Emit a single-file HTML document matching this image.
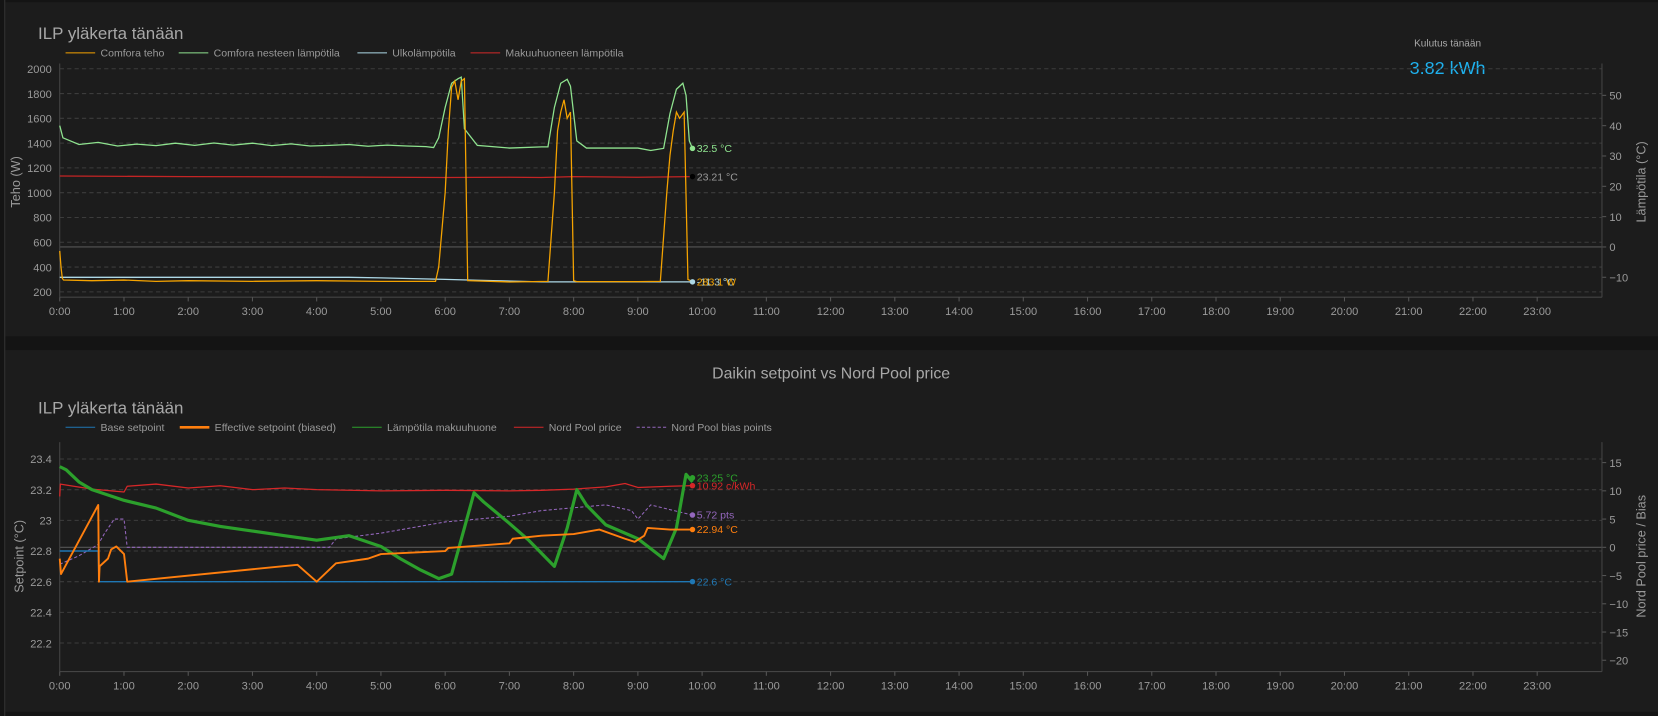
<!DOCTYPE html>
<html><head><meta charset="utf-8">
<style>
html,body{margin:0;padding:0;background:#161616;width:1658px;height:716px;overflow:hidden;}
svg{display:block;font-family:"Liberation Sans",sans-serif;}
</style></head>
<body>
<svg id="root" width="1658" height="716" viewBox="0 0 1568 677" preserveAspectRatio="none" xmlns="http://www.w3.org/2000/svg">
<rect x="0" y="0" width="1568" height="677" fill="#141414"/>
<rect x="5" y="2" width="1563" height="316" fill="#1c1c1c"/>
<rect x="5" y="331" width="1563" height="342" fill="#1c1c1c"/>
<line x1="4.5" y1="0" x2="4.5" y2="677" stroke="#333"/>
<g id="c1"></g>
<g id="c2"></g>
</svg>
<script>
// ---------- Chart 1 data ----------
const hourTicks = ["0:00","1:00","2:00","3:00","4:00","5:00","6:00","7:00","8:00","9:00","10:00","11:00","12:00","13:00","14:00","15:00","16:00","17:00","18:00","19:00","20:00","21:00","22:00","23:00"];
const powerTicks = [200,400,600,800,1000,1200,1400,1600,1800,2000];
const tempTicks = [-10,0,10,20,30,40,50];
const powerT = [0,0.02,0.04,0.06,0.5,1,1.5,2,3,4,5,5.85,5.9,6.0,6.05,6.1,6.15,6.2,6.25,6.3,6.35,7,7.6,7.7,7.75,7.8,7.85,7.9,7.95,8.0,8.05,9,9.35,9.45,9.5,9.55,9.6,9.65,9.72,9.78,9.85];
const powerV = [530,400,310,295,290,295,285,290,285,290,285,285,400,1000,1500,1850,1900,1750,1900,1920,290,280,285,1000,1500,1650,1750,1600,1650,290,282,282,285,1000,1300,1500,1650,1600,1650,300,283];
const fluidT = [0,0.05,0.3,0.6,0.9,1.2,1.5,1.8,2.1,2.4,2.7,3.0,3.3,3.6,3.9,4.2,4.5,4.8,5.1,5.4,5.7,5.82,5.9,6.0,6.1,6.2,6.25,6.3,6.5,7.0,7.5,7.6,7.7,7.8,7.9,7.95,8.05,8.2,9.0,9.2,9.4,9.5,9.6,9.7,9.75,9.8,9.85];
const fluidV = [40,36,33.8,34.5,33.3,33.9,33.4,34.2,33.5,34.3,33.6,34.2,33.4,34.0,33.3,33.5,33.8,33.2,33.6,33.3,33.1,32.8,36,46,54,55.5,56,39,33.5,32.6,33,33,46,54,55.3,53,35,32.6,32.6,31.8,32.5,44,52,54,50,35,32.5];
const outT = [0,4.5,5,6,6.5,7.5,9.85];
const outV = [-10,-10,-10.2,-10.7,-11,-11.5,-11.5];
const roomT = [0,2,4,6,7,7.5,8,9,9.85];
const roomV = [23.4,23.2,23.1,22.9,23.0,22.9,23.2,23.0,23.21];

// ---------- Chart 2 data ----------
const spTicks = [22.2,22.4,22.6,22.8,23,23.2,23.4];
const spTickLabels = ["22.2","22.4","22.6","22.8","23","23.2","23.4"];
const biasTicks = [-20,-15,-10,-5,0,5,10,15];
const baseT = [0,0.6,0.61,9.85];
const baseV = [22.8,22.8,22.6,22.6];
const effT = [0,0.02,0.6,0.61,0.62,0.75,0.8,0.88,1.0,1.05,3.7,4.0,4.3,4.8,5.0,6.0,6.05,7.0,7.05,7.5,8.0,8.4,8.8,8.95,9.1,9.15,9.5,9.85];
const effV = [22.75,22.65,23.1,22.6,22.7,22.75,22.81,22.83,22.78,22.6,22.71,22.6,22.72,22.75,22.78,22.8,22.82,22.85,22.88,22.9,22.91,22.94,22.88,22.86,22.9,22.95,22.94,22.94];
const roomBT = [0,0.1,0.3,0.5,1.0,1.5,2.0,2.5,3.0,3.5,4.0,4.5,5.0,5.3,5.6,5.9,6.1,6.3,6.45,6.6,7.0,7.3,7.7,7.9,8.05,8.2,8.5,9.0,9.4,9.6,9.75,9.85];
const roomBV = [23.35,23.33,23.25,23.2,23.13,23.08,23.0,22.96,22.93,22.9,22.87,22.9,22.83,22.75,22.68,22.62,22.65,22.95,23.18,23.12,22.98,22.87,22.7,22.95,23.2,23.1,22.97,22.88,22.75,22.95,23.3,23.25];
const priceT = [0,0.01,0.5,1.0,1.05,1.5,2.0,2.5,3.0,3.5,4.0,5.0,6.0,7.0,7.5,8.0,8.5,8.8,9.0,9.5,9.85];
const priceV = [9,11.2,10.3,9.8,10.8,11.2,10.5,10.9,10.2,10.5,10.2,10.0,10.1,10.0,10.1,10.3,10.7,11.3,10.6,10.8,10.92];
const biasT = [0,0.3,0.6,0.7,0.85,1.0,1.05,4.2,4.3,5.0,6.0,7.0,7.5,8.0,8.5,8.9,9.0,9.2,9.85];
const biasV = [-3,-1.5,0.5,2.5,5,5,0,0,1.5,2.5,4.5,5.5,6.5,7,7.5,6.5,5,7.5,5.72];

const NS="http://www.w3.org/2000/svg";
function mk(parent,tag,attrs,text){const e=document.createElementNS(NS,tag);for(const k in attrs)e.setAttribute(k,attrs[k]);if(text!==undefined)e.textContent=text;parent.appendChild(e);return e;}
const X0=56.5, HR=60.75, XR=1515;
const xs=h=>X0+h*HR;
function pathD(T,V,f){return T.map((t,i)=>(i?"L":"M")+xs(t).toFixed(1)+" "+f(V[i]).toFixed(1)).join("");}

function axesX(g,yb){
  hourTicks.forEach((lab,i)=>{const x=xs(i);
    mk(g,"line",{x1:x,y1:yb,x2:x,y2:yb+4,stroke:"#555"});
    const t=mk(g,"text",{x:x,y:yb+17,fill:"#9a9a9a","font-size":10.5,"text-anchor":"middle"},lab);
    
    
  });
}
function legend(g,y,items,pos){
  items.forEach((it,i)=>{const x=pos[i];
    mk(g,"line",{x1:x,y1:y,x2:x+28,y2:y,stroke:it.c,"stroke-width":it.w||1,"stroke-dasharray":it.d||"none"});
    const t=mk(g,"text",{x:x+33,y:y+3.5,fill:"#9a9a9a","font-size":10},it.n);
    
    
  });
}

// ---------- Chart 1 ----------
(function(){
  const g=document.getElementById("c1");
  const yP=v=>65+(2000-v)/200*23.44;
  const yT=v=>233.5-v*2.867;
  const yTop=60, yBot=281;
  mk(g,"text",{x:36,y:37,fill:"#a8a8a8","font-size":16},"ILP yläkerta tänään");
  legend(g,50,[{n:"Comfora teho",c:"#f5a300"},{n:"Comfora nesteen lämpötila",c:"#8fe38f"},{n:"Ulkolämpötila",c:"#add8e6"},{n:"Makuuhuoneen lämpötila",c:"#d42a2a"}],[62,169,338,445]);
  mk(g,"text",{x:1369,y:44,fill:"#a8a8a8","font-size":9.5,"text-anchor":"middle"},"Kulutus tänään");
  mk(g,"text",{x:1369,y:70,fill:"#1fb1ee","font-size":17,"text-anchor":"middle"},"3.82 kWh");
  powerTicks.forEach(v=>{const y=yP(v);
    mk(g,"line",{x1:X0,y1:y,x2:XR,y2:y,stroke:"#3c3c3c","stroke-dasharray":"4 3"});
    mk(g,"text",{x:49,y:y+4,fill:"#9a9a9a","font-size":10.5,"text-anchor":"end"},v);});
  tempTicks.forEach(v=>{const y=yT(v);
    mk(g,"line",{x1:XR,y1:y,x2:XR+4,y2:y,stroke:"#555"});
    mk(g,"text",{x:1522,y:y+4,fill:"#9a9a9a","font-size":10.5},v<0?"−"+(-v):v);});
  mk(g,"line",{x1:X0,y1:yT(0),x2:XR,y2:yT(0),stroke:"#555"});
  mk(g,"line",{x1:X0,y1:yTop,x2:X0,y2:yBot,stroke:"#444"});
  mk(g,"line",{x1:XR,y1:yTop,x2:XR,y2:yBot,stroke:"#444"});
  mk(g,"line",{x1:X0,y1:yBot,x2:XR,y2:yBot,stroke:"#444"});
  axesX(g,yBot);
  mk(g,"text",{x:0,y:0,fill:"#9a9a9a","font-size":12,"text-anchor":"middle",transform:"translate(19,172) rotate(-90)"},"Teho (W)");
  mk(g,"text",{x:0,y:0,fill:"#9a9a9a","font-size":12,"text-anchor":"middle",transform:"translate(1556,172) rotate(-90)"},"Lämpötila (°C)");
  const s=[[roomT,roomV,yT,"#c42424",1.2,"room-temp-line"],[outT,outV,yT,"#add8e6",1.2,"outdoor-temp-line"],[fluidT,fluidV,yT,"#8fe38f",1.2,"fluid-temp-line"],[powerT,powerV,yP,"#f5a300",1.2,"power-line"]];
  s.forEach(a=>{const p=mk(g,"path",{d:pathD(a[0],a[1],a[2]),fill:"none",stroke:a[3],"stroke-width":a[4]});
    
    });
  const ex=xs(9.85);
  mk(g,"circle",{cx:ex,cy:yT(fluidV[fluidV.length-1]),r:2.6,fill:"#8fe38f"});
  mk(g,"text",{x:ex+4,y:yT(32.5)+3.5,fill:"#8fe38f","font-size":10},"32.5 °C");
  mk(g,"circle",{cx:ex,cy:yT(roomV[roomV.length-1]),r:2.6,fill:"#000"});
  mk(g,"text",{x:ex+4,y:yT(23.21)+3.5,fill:"#9a9a9a","font-size":10},"23.21 °C");
  mk(g,"circle",{cx:ex,cy:yT(-11.5),r:2.6,fill:"#add8e6"});
  mk(g,"text",{x:ex+4,y:yT(-11.5)+3.5,fill:"#add8e6","font-size":10},"-11.3 °C");
  mk(g,"text",{x:ex+4,y:yT(-11.5)+3.5,fill:"#f5a300","font-size":10},"283.1 W");
})();

// ---------- Chart 2 ----------
(function(){
  const g=document.getElementById("c2");
  const yS=v=>434+(23.4-v)/0.2*29;
  const yB=v=>517.5-v*5.34;
  const yTop=418, yBot=635;
  mk(g,"text",{x:786,y:358,fill:"#a8a8a8","font-size":15,"text-anchor":"middle"},"Daikin setpoint vs Nord Pool price");
  mk(g,"text",{x:36,y:391,fill:"#a8a8a8","font-size":16},"ILP yläkerta tänään");
  legend(g,404,[{n:"Base setpoint",c:"#1f77b4"},{n:"Effective setpoint (biased)",c:"#ff7f0e",w:2.5},{n:"Lämpötila makuuhuone",c:"#2ca02c"},{n:"Nord Pool price",c:"#d62728"},{n:"Nord Pool bias points",c:"#9467bd",d:"3 2"}],[62,170,333,486,602]);
  spTicks.forEach((v,i)=>{const y=yS(v);
    mk(g,"line",{x1:X0,y1:y,x2:XR,y2:y,stroke:"#3c3c3c","stroke-dasharray":"4 3"});
    mk(g,"text",{x:49,y:y+4,fill:"#9a9a9a","font-size":10.5,"text-anchor":"end"},spTickLabels[i]);});
  biasTicks.forEach(v=>{const y=yB(v);
    mk(g,"line",{x1:XR,y1:y,x2:XR+4,y2:y,stroke:"#555"});
    mk(g,"text",{x:1522,y:y+4,fill:"#9a9a9a","font-size":10.5},v<0?"−"+(-v):v);});
  mk(g,"line",{x1:X0,y1:yB(0),x2:XR,y2:yB(0),stroke:"#555"});
  mk(g,"line",{x1:X0,y1:yTop,x2:X0,y2:yBot,stroke:"#444"});
  mk(g,"line",{x1:XR,y1:yTop,x2:XR,y2:yBot,stroke:"#444"});
  mk(g,"line",{x1:X0,y1:yBot,x2:XR,y2:yBot,stroke:"#444"});
  axesX(g,yBot);
  mk(g,"text",{x:0,y:0,fill:"#9a9a9a","font-size":12,"text-anchor":"middle",transform:"translate(22,526) rotate(-90)"},"Setpoint (°C)");
  mk(g,"text",{x:0,y:0,fill:"#9a9a9a","font-size":12,"text-anchor":"middle",transform:"translate(1556,526) rotate(-90)"},"Nord Pool price / Bias");
  const s=[[priceT,priceV,yB,"#d62728",1.2,"none","price-line"],[biasT,biasV,yB,"#9467bd",1,"3 2","bias-line"],[baseT,baseV,yS,"#1f77b4",1.4,"none","base-setpoint-line"],[roomBT,roomBV,yS,"#2ca02c",3,"none","room-temp-line"],[effT,effV,yS,"#ff7f0e",1.8,"none","effective-setpoint-line"]];
  s.forEach(a=>{const p=mk(g,"path",{d:pathD(a[0],a[1],a[2]),fill:"none",stroke:a[3],"stroke-width":a[4],"stroke-dasharray":a[5],"stroke-linejoin":"round"});
    
    });
  const ex=xs(9.85);
  const lab=(y,c,t)=>{mk(g,"circle",{cx:ex,cy:y,r:2.6,fill:c});mk(g,"text",{x:ex+4,y:y+3.5,fill:c,"font-size":10},t);};
  lab(yS(23.25)-4,"#2ca02c","23.25 °C");
  lab(yB(priceV[priceV.length-1]),"#d62728","10.92 c/kWh");
  lab(yB(biasV[biasV.length-1]),"#9467bd","5.72 pts");
  lab(yS(effV[effV.length-1]),"#ff7f0e","22.94 °C");
  lab(yS(baseV[baseV.length-1]),"#1f77b4","22.6 °C");
})();
</script>
</body></html>
